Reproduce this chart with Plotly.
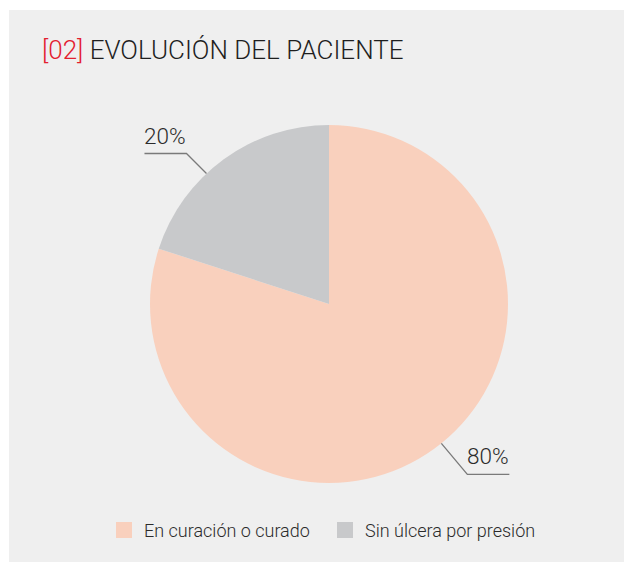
import math
import plotly.graph_objects as go

# ---- data ----
categories = ["En curación o curado", "Sin úlcera por presión"]
values = [80, 20]
value_labels = ["80%", "20%"]
colors = ["#f9d0bd", "#c8c9cb"]
title_tag = "[02]"
title_text = "EVOLUCIÓN DEL PACIENTE"

# ---- layout constants (screen pixels; page has an 8px body margin) ----
OFF = 8
W, H = 624, 554
CX, CY, R = 329, 304, 179
leader_frac = [0.49, 0.40]          # where along each slice the leader touches
leader_diag = [(26, 31), (20, 20)]  # diagonal segment size
leader_len = 42                     # horizontal segment length
legend_sq_x = [116, 337]
legend_y = 530
legend_sq = 16
FONT = "Roboto"
TXT = "#2b2b2b"

def px(x):
    return (x - OFF) / W

def py(y):
    return 1 - (y - OFF) / H

fig = go.Figure()
fig.add_trace(go.Pie(
    labels=categories,
    values=values,
    marker=dict(colors=colors, line=dict(width=0)),
    sort=False,
    direction="clockwise",
    rotation=0,
    textinfo="none",
    hoverinfo="label+percent",
    showlegend=False,
    domain=dict(x=[px(CX - R), px(CX + R)], y=[py(CY + R), py(CY - R)]),
))

shapes = [dict(type="rect", xref="paper", yref="paper", x0=px(9), x1=1.0, y0=0, y1=py(10),
               fillcolor="#efefef", line=dict(width=0), layer="below")]
annotations = []

total = sum(values)
cum = 0
for i, v in enumerate(values):
    theta = 2 * math.pi * (cum + leader_frac[i] * v) / total
    cum += v
    sx, sy = math.sin(theta), -math.cos(theta)
    ex, ey = CX + R * sx, CY + R * sy
    dirx = 1 if sx >= 0 else -1
    diry = 1 if sy >= 0 else -1
    bx, by = ex + dirx * leader_diag[i][0], ey + diry * leader_diag[i][1]
    hx = bx + dirx * leader_len
    shapes.append(dict(type="path", xref="paper", yref="paper",
                       path=f"M {px(ex)},{py(ey)} L {px(bx)},{py(by)} L {px(hx)},{py(by)}",
                       line=dict(color="#7a7a7a", width=1.3)))
    annotations.append(dict(x=px((bx + hx) / 2), y=py(by - 3), xref="paper", yref="paper",
                            text=value_labels[i], showarrow=False, xanchor="center", yanchor="bottom",
                            font=dict(family=FONT, size=22.5, color=TXT, weight=300)))

# manual legend (larger squares than plotly's pie legend)
for i, name in enumerate(categories):
    x0 = legend_sq_x[i]
    shapes.append(dict(type="rect", xref="paper", yref="paper",
                       x0=px(x0), x1=px(x0 + legend_sq),
                       y0=py(legend_y + legend_sq / 2), y1=py(legend_y - legend_sq / 2),
                       fillcolor=colors[i], line=dict(width=0)))
    annotations.append(dict(x=px(x0 + legend_sq + 10), y=py(legend_y), xref="paper", yref="paper",
                            xanchor="left", yanchor="middle", showarrow=False, text=name,
                            font=dict(family=FONT, size=18, color=TXT, weight=300)))

annotations.append(dict(x=px(40), y=py(50), xref="paper", yref="paper", xanchor="left", yanchor="middle",
                        showarrow=False,
                        text=f'<span style="color:#e3202f">{title_tag}</span> {title_text}',
                        font=dict(family=FONT, size=26, color="#1e1e1e", weight=300)))

fig.update_layout(
    width=W, height=H,
    margin=dict(l=0, r=0, t=0, b=0),
    paper_bgcolor="white",
    plot_bgcolor="rgba(0,0,0,0)",
    shapes=shapes,
    annotations=annotations,
    showlegend=False,
)

fig.write_html("out.html")
